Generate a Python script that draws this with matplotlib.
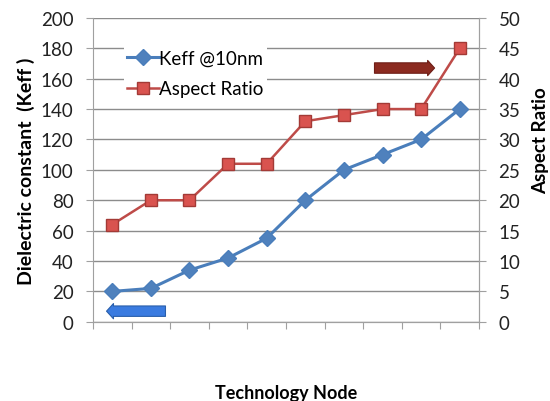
import matplotlib.pyplot as plt

plt.rcParams['font.family'] = ['Lato', 'DejaVu Sans']

# data
nodes = list(range(10))
keff = [20, 22, 34, 42, 55, 80, 100, 110, 120, 140]
aspect_ratio = [16, 20, 20, 26, 26, 33, 34, 35, 35, 45]

blue = '#4a7ebb'
red = '#be4b48'
grid_col = '#8c8c8c'

fig = plt.figure(figsize=(5.5, 4.02), dpi=100)
ax = fig.add_axes([0.169, 0.197, 0.702, 0.756])
ax2 = ax.twinx()

ln1, = ax.plot(nodes, keff, color=blue, lw=2.2, marker='D', ms=8,
               mfc='#4f81bd', mec='#4a7ebb', label='Keff @10nm', zorder=3)
ln2, = ax2.plot(nodes, aspect_ratio, color=red, lw=1.8, marker='s', ms=8,
                mfc='#d9534f', mec='#a33a36', label='Aspect Ratio', zorder=3)

ax.set_xlim(-0.5, 9.5)
ax.set_ylim(0, 200)
ax2.set_ylim(0, 50)
ax.set_yticks(range(0, 201, 20))
ax2.set_yticks(range(0, 51, 5))
ax.set_xticks([i - 0.5 for i in range(11)])
ax.set_xticklabels([])

ax.yaxis.grid(True, color=grid_col, lw=1)
ax.set_axisbelow(True)
for a in (ax, ax2):
    for s in a.spines.values():
        s.set_color('#a0a0a0')
    a.spines['top'].set_visible(False)
    a.tick_params(colors='#a0a0a0', labelcolor='#222222', labelsize=13.5, length=5)
ax.tick_params(axis='y', pad=9)
ax2.tick_params(axis='y', pad=9)
ax2.spines['left'].set_visible(False)

ax.set_ylabel('Dielectric constant  (Keff )', fontsize=14, fontweight='bold')
ax.yaxis.set_label_coords(-0.15, 0.5)
ax2.set_ylabel('Aspect Ratio', fontsize=13.5, fontweight='bold', rotation=90)
ax2.yaxis.set_label_coords(1.137, 0.6)
ax.set_xlabel('Technology Node', fontsize=13, fontweight='bold')
ax.xaxis.set_label_coords(0.5, -0.205)

# arrows pointing to each axis
ax.annotate('', xy=(-0.22, 7), xytext=(1.45, 7),
            arrowprops=dict(arrowstyle='simple,head_length=0.5,head_width=1.1,tail_width=0.75',
                            fc='#3a7be0', ec='#2a5faa', lw=0.8), zorder=4)
ax.annotate('', xy=(8.42, 167), xytext=(6.72, 167),
            arrowprops=dict(arrowstyle='simple,head_length=0.5,head_width=1.1,tail_width=0.75',
                            fc='#8b2a20', ec='#6e1f18', lw=0.8), zorder=4)

leg = ax2.legend([ln1, ln2], ['Keff @10nm', 'Aspect Ratio'], loc='upper left',
                 bbox_to_anchor=(0.055, 0.94), frameon=True, fontsize=13.5,
                 handlelength=1.7, handletextpad=0.0, labelspacing=0.75,
                 borderpad=0.2, fancybox=False)
leg.get_frame().set_edgecolor('none')
leg.get_frame().set_facecolor('white')
leg.get_frame().set_alpha(1)

plt.savefig('out.png', dpi=100)
